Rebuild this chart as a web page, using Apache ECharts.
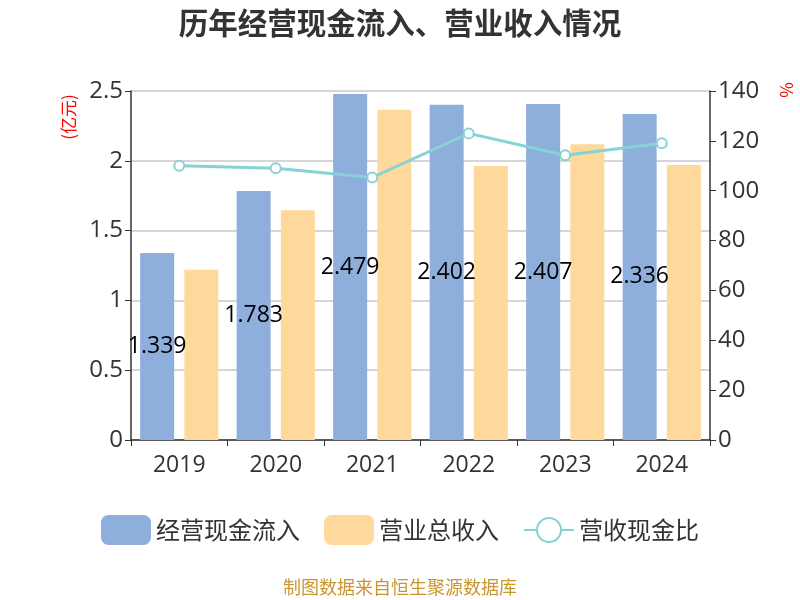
<!DOCTYPE html>
<html><head><meta charset="utf-8">
<script src="https://cdn.jsdelivr.net/npm/echarts@6/dist/echarts.min.js"></script>
<style>html,body{margin:0;padding:0;background:#fff}#c{width:800px;height:600px}</style>
</head><body><div id="c"></div>
<script>
var categories = ['2019','2020','2021','2022','2023','2024'];
var cashInflow = [1.339, 1.783, 2.479, 2.402, 2.407, 2.336];
var revenue = [1.220, 1.645, 2.365, 1.962, 2.118, 1.970];
var ratio = [110.0, 109.0, 105.3, 123.0, 114.2, 119.0];
var leftTicks = [0, 0.5, 1, 1.5, 2, 2.5];
var rightTicks = [0, 20, 40, 60, 80, 100, 120, 140];

var chart = echarts.init(document.getElementById('c'));
chart.setOption({
  animation: false,
  title: {text: '历年经营现金流入、营业收入情况', left: 'center', top: 3,
    textStyle: {fontSize: 29.5, fontWeight: 'bold', color: '#333', fontFamily: 'Noto Sans CJK SC'}},
  legend: {bottom: 50, itemWidth: 50, itemHeight: 30, itemGap: 24,
    textStyle: {fontSize: 24, color: '#333', fontFamily: 'Noto Sans CJK SC'},
    data: [{name: '经营现金流入', icon: 'roundRect'}, {name: '营业总收入', icon: 'roundRect'}, {name: '营收现金比'}]},
  graphic: [
    {type: 'text', left: 'center', top: 578,
     style: {text: '制图数据来自恒生聚源数据库', fill: '#c9962e', fontSize: 18, fontFamily: 'Noto Sans CJK SC'}},
    {type: 'text', x: 69, y: 117, rotation: Math.PI / 2,
     style: {text: '(亿元)', fill: '#ff0000', fontSize: 17, align: 'center', verticalAlign: 'middle', fontFamily: 'Noto Sans CJK SC'}},
    {type: 'text', x: 787, y: 90, rotation: Math.PI / 2,
     style: {text: '%', fill: '#ff0000', fontSize: 17, align: 'center', verticalAlign: 'middle', fontFamily: 'Noto Sans CJK SC'}}
  ],
  grid: {left: 131, right: 90, top: 91, bottom: 160},
  xAxis: {type: 'category', data: categories,
    axisLine: {lineStyle: {color: '#333', width: 1.5}},
    axisTick: {show: true, length: 6, lineStyle: {color: '#333'}},
    axisLabel: {fontSize: 23, color: '#333', margin: 14, fontFamily: 'Open Sans'}},
  yAxis: [{type: 'value', min: 0, max: 2.5, interval: 0.5,
    axisLine: {show: true, lineStyle: {color: '#333', width: 1.5}},
    axisTick: {show: true, length: 6, lineStyle: {color: '#333'}},
    axisLabel: {fontSize: 24, color: '#333', margin: 8, fontFamily: 'Open Sans',
      formatter: function(v){return String(v);}},
    splitLine: {lineStyle: {color: '#c8c8c8', width: 1.5}}},
   {type: 'value', min: 0, max: 140, interval: 20,
    axisLine: {show: true, lineStyle: {color: '#333', width: 1.5}},
    axisTick: {show: true, length: 6, lineStyle: {color: '#333'}},
    axisLabel: {fontSize: 24, color: '#333', margin: 8, fontFamily: 'Open Sans'},
    splitLine: {show: false}}],
  series: [
    {name: '经营现金流入', type: 'bar', data: cashInflow, barWidth: 34, barGap: '30%',
     itemStyle: {color: '#8eaedb'},
     label: {show: true, position: 'inside', color: '#000', fontSize: 23, fontFamily: 'Open Sans',
       formatter: function(p){return p.value.toFixed(3);}}},
    {name: '营业总收入', type: 'bar', data: revenue, barWidth: 34,
     itemStyle: {color: '#ffd99b'}},
    {name: '营收现金比', type: 'line', yAxisIndex: 1, data: ratio,
     symbol: 'emptyCircle', symbolSize: 10,
     lineStyle: {color: '#86d3d6', width: 3}, itemStyle: {color: '#86d3d6', borderWidth: 2}}
  ]
});
</script></body></html>
